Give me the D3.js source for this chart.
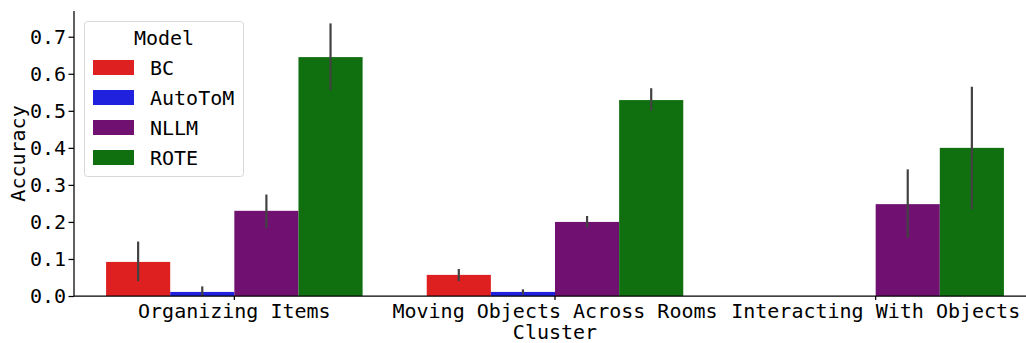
<!DOCTYPE html>
<html>
<head>
<meta charset="utf-8">
<script src="https://cdn.jsdelivr.net/npm/d3@7"></script>
<style>
  html, body { margin: 0; padding: 0; background: #ffffff; }
  svg { display: block; }
  text { font-family: "DejaVu Sans Mono", monospace; fill: #000; }
</style>
</head>
<body>
<svg id="chart" width="1026" height="343"></svg>
<script>
// Cluster categories and model series
const clusters = ["Organizing Items", "Moving Objects Across Rooms", "Interacting With Objects"];
const models = ["BC", "AutoToM", "NLLM", "ROTE"];
const modelColors = ["#df2020", "#2020df", "#701070", "#107010"];

// Mean accuracy per model, one value per cluster
const bcValues      = [0.092, 0.057, 0.0];
const autotomValues = [0.011, 0.011, 0.0];
const nllmValues    = [0.230, 0.200, 0.248];
const roteValues    = [0.645, 0.529, 0.400];

// Confidence interval bounds per model, one value per cluster
const bcLow       = [0.040, 0.040, 0.0];
const bcHigh      = [0.147, 0.073, 0.0];
const autotomLow  = [0.0, 0.004, 0.0];
const autotomHigh = [0.026, 0.018, 0.0];
const nllmLow     = [0.183, 0.185, 0.157];
const nllmHigh    = [0.274, 0.216, 0.342];
const roteLow     = [0.556, 0.500, 0.234];
const roteHigh    = [0.736, 0.561, 0.565];

const yTicks = [0.0, 0.1, 0.2, 0.3, 0.4, 0.5, 0.6, 0.7];

const seriesValues = [bcValues, autotomValues, nllmValues, roteValues];
const seriesLow = [bcLow, autotomLow, nllmLow, roteLow];
const seriesHigh = [bcHigh, autotomHigh, nllmHigh, roteHigh];

const rows = [];
clusters.forEach((c, ci) => {
  models.forEach((m, mi) => {
    rows.push({ cluster: c, model: m, value: seriesValues[mi][ci],
                low: seriesLow[mi][ci], high: seriesHigh[mi][ci], color: modelColors[mi] });
  });
});

const svg = d3.select("#chart");
const plot = { left: 74, right: 1036, top: 11, bottom: 296 };

const x = d3.scaleBand().domain(clusters).range([plot.left, plot.right]).padding(0);
const bw = x.bandwidth();
const xInner = d3.scaleBand().domain(models).range([0.1 * bw, 0.9 * bw]).padding(0);
const y = d3.scaleLinear().domain([0, 0.7695]).range([plot.bottom, plot.top]);

// Bars
svg.append("g").selectAll("rect").data(rows).join("rect")
  .attr("x", d => x(d.cluster) + xInner(d.model))
  .attr("y", d => y(d.value))
  .attr("width", xInner.bandwidth())
  .attr("height", d => y(0) - y(d.value))
  .attr("fill", d => d.color);

// Error bars
svg.append("g").selectAll("line").data(rows.filter(d => d.high > d.low)).join("line")
  .attr("x1", d => x(d.cluster) + xInner(d.model) + xInner.bandwidth() / 2)
  .attr("x2", d => x(d.cluster) + xInner(d.model) + xInner.bandwidth() / 2)
  .attr("y1", d => y(d.low))
  .attr("y2", d => y(d.high))
  .attr("stroke", "#424242")
  .attr("stroke-width", 2.2);

// Y axis
const yAxis = svg.append("g").attr("transform", `translate(${plot.left},0)`)
  .call(d3.axisLeft(y).tickValues(yTicks).tickFormat(d3.format(".1f")).tickSize(5.5).tickPadding(2.5));
yAxis.select(".domain").attr("d", `M0,${plot.top}V${plot.bottom}`).attr("stroke", "#000").attr("stroke-width", 1.25);
yAxis.selectAll(".tick line").attr("stroke", "#000").attr("stroke-width", 1.25);
yAxis.selectAll(".tick text").attr("font-size", 20).attr("font-family", "DejaVu Sans Mono").attr("fill", "#000");

// X axis
const xAxis = svg.append("g").attr("transform", `translate(0,${plot.bottom})`)
  .call(d3.axisBottom(x).tickSize(4).tickPadding(4));
xAxis.select(".domain").attr("d", `M${plot.left},0H${plot.right}`).attr("stroke", "#000").attr("stroke-width", 1.25);
xAxis.selectAll(".tick line").attr("stroke", "#000").attr("stroke-width", 1.25);
xAxis.selectAll(".tick text").attr("font-size", 20).attr("font-family", "DejaVu Sans Mono").attr("fill", "#000");

// Axis titles
svg.append("text")
  .attr("transform", `translate(25,${(plot.top + plot.bottom) / 2}) rotate(-90)`)
  .attr("text-anchor", "middle")
  .attr("font-size", 20)
  .text("Accuracy");
svg.append("text")
  .attr("x", (plot.left + plot.right) / 2)
  .attr("y", 339)
  .attr("text-anchor", "middle")
  .attr("font-size", 20)
  .text("Cluster");

// Legend
const legend = svg.append("g");
legend.append("rect")
  .attr("x", 84.5).attr("y", 21.5).attr("width", 159).attr("height", 155)
  .attr("rx", 3).attr("fill", "#ffffff").attr("fill-opacity", 0.8)
  .attr("stroke", "#d8d8d8").attr("stroke-width", 1);
legend.append("text")
  .attr("x", 164).attr("y", 45).attr("text-anchor", "middle")
  .attr("font-size", 20).text("Model");
const items = legend.selectAll("g.item").data(models).join("g").attr("class", "item")
  .attr("transform", (d, i) => `translate(0,${60 + i * 30})`);
items.append("rect")
  .attr("x", 93).attr("y", 0).attr("width", 41).attr("height", 15)
  .attr("fill", (d, i) => modelColors[i]);
items.append("text")
  .attr("x", 150).attr("y", 15).attr("font-size", 20).text(d => d);
</script>
</body>
</html>
